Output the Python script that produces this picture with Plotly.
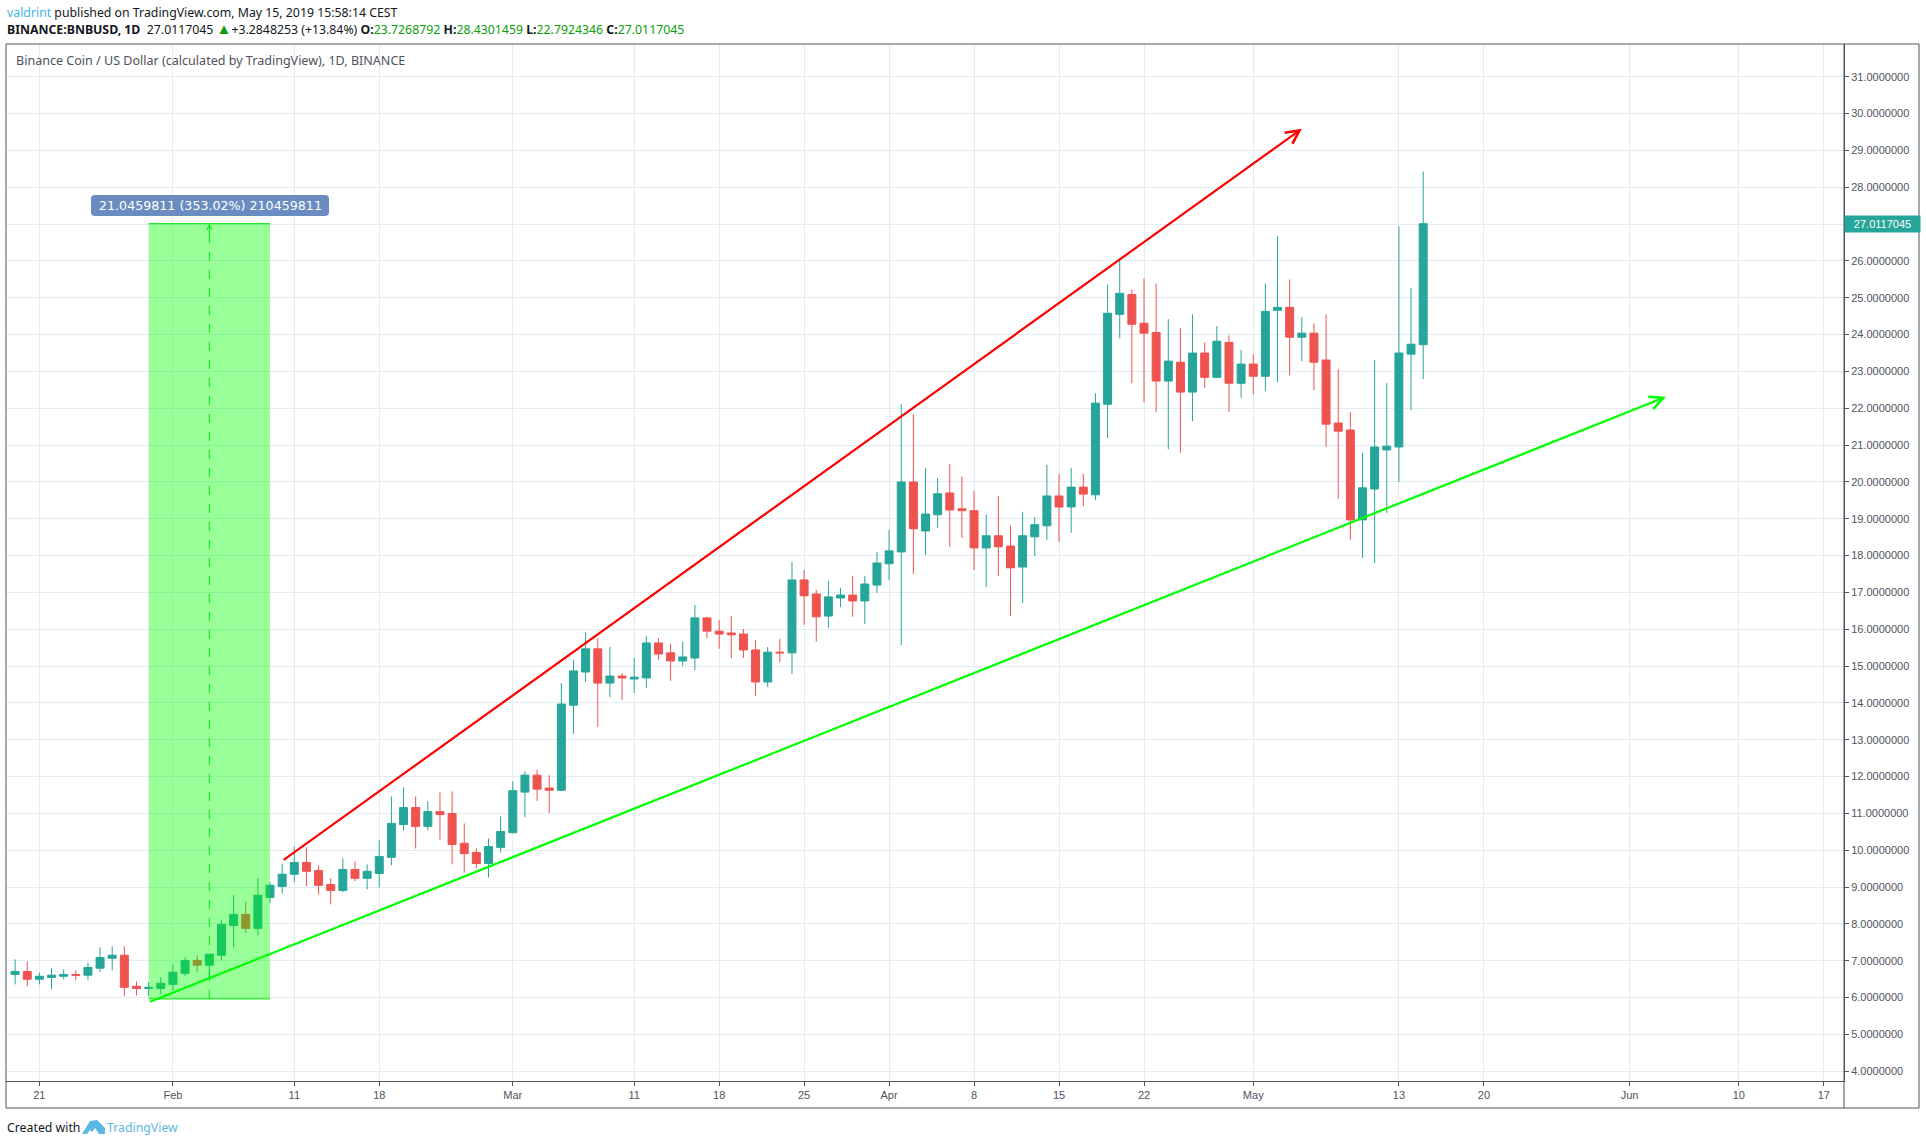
import pandas as pd
import plotly.graph_objects as go

W, H = 1926, 1145

# daily candles, 2019-01-19 .. 2019-05-15
dates = pd.date_range("2019-01-19", "2019-05-15").strftime("%Y-%m-%d").tolist()

opens = [6.63, 6.71, 6.50, 6.55, 6.58, 6.63, 6.61, 6.80, 7.07, 7.15, 6.31, 6.25, 6.25,
         6.36, 6.66, 7.01, 6.88, 7.15, 7.96, 8.26, 7.88, 8.72, 9.02, 9.35, 9.67, 9.45, 9.07, 8.91, 9.48,
         9.24, 9.37, 9.81, 10.70, 11.16, 10.65, 11.05, 11.00, 10.19, 9.94, 9.64, 10.08,
         10.48, 11.58, 12.04, 11.69, 11.63, 13.94, 14.84, 15.47, 14.54, 14.73, 14.65, 14.68, 15.63, 15.36,
         15.14, 15.22, 16.31, 15.95, 15.90, 15.87, 15.44, 14.57, 15.38, 15.36, 17.34, 16.96, 16.36, 16.85,
         16.93, 16.77, 17.20,
         17.78, 18.10, 20.00, 18.67, 19.11, 19.70, 19.27, 19.22, 18.21, 18.54, 18.26, 17.69, 18.51, 18.81,
         19.62, 19.32, 19.86, 19.65, 22.11, 24.55, 25.09, 24.31, 24.06, 22.74, 23.25, 22.44, 23.50, 22.84,
         23.79, 22.68,
         23.20, 22.87, 24.66, 24.74, 23.93, 24.04, 23.31, 21.60, 21.41, 18.97, 19.81, 20.87, 20.95, 23.47,
         23.7268792]
highs = [7.04, 6.99, 6.68, 6.80, 6.77, 6.74, 6.95, 7.37, 7.39, 7.39, 6.44, 6.42, 6.55,
         6.90, 7.09, 7.15, 7.18, 8.12, 8.78, 8.61, 9.24, 9.13, 9.62, 10.10, 10.08, 9.59, 9.24, 9.78, 9.70,
         9.62, 10.27, 11.46, 11.71, 11.46, 11.33, 11.57, 11.60, 10.73, 10.05, 10.32, 10.92,
         11.87, 12.15, 12.18, 12.04, 14.54, 15.17, 15.93, 15.76, 15.52, 14.81, 15.22, 15.82, 15.76, 15.60,
         15.66, 16.66, 16.34, 16.25, 16.36, 16.01, 15.71, 15.52, 15.74, 17.83, 17.61, 17.07, 17.31, 17.12,
         17.45, 17.45, 18.10,
         18.70, 22.12, 21.84, 20.38, 20.11, 20.49, 20.14, 19.76, 19.11, 19.62, 18.81, 19.19, 19.05, 20.47,
         20.22, 20.38, 20.22, 22.41, 25.36, 26.02, 25.23, 25.53, 25.39, 24.42, 24.17, 24.55, 23.79, 24.23,
         23.98, 23.58,
         23.47, 25.39, 26.67, 25.50, 24.47, 24.31, 24.55, 23.06, 21.90, 20.79, 23.31, 22.68, 26.94, 25.26,
         28.4301459]
lows = [6.36, 6.31, 6.36, 6.23, 6.50, 6.47, 6.47, 6.69, 6.74, 6.04, 6.06, 6.04, 6.09,
        6.20, 6.58, 6.69, 6.50, 7.01, 7.37, 7.75, 7.69, 8.56, 8.83, 9.13, 9.02, 8.80, 8.53, 8.86, 9.16,
        8.94, 8.99, 9.59, 10.54, 10.05, 10.54, 10.29, 9.62, 9.40, 9.51, 9.26, 9.94,
        10.46, 10.90, 11.34, 11.01, 11.61, 13.16, 14.57, 13.35, 14.16, 14.08, 14.27, 14.41, 15.17, 14.60,
        15.00, 14.89, 15.76, 15.47, 15.22, 15.22, 14.19, 14.43, 15.11, 14.79, 16.12, 15.66, 16.04, 16.60,
        16.34, 16.14, 16.99,
        17.34, 15.57, 17.50, 18.02, 18.75, 18.24, 18.48, 17.61, 17.15, 17.45, 16.36, 16.72, 17.99, 18.43,
        18.37, 18.62, 19.35, 19.51, 21.19, 23.90, 22.68, 22.17, 21.90, 20.89, 20.79, 21.65, 22.55, 22.84,
        21.90, 22.28,
        22.38, 22.47, 22.71, 22.90, 23.28, 22.49, 20.95, 19.54, 18.43, 17.94, 17.80, 19.16, 20.00, 21.95,
        22.7924346]
closes = [6.71, 6.50, 6.58, 6.61, 6.63, 6.61, 6.82, 7.09, 7.15, 6.28, 6.25, 6.28, 6.39,
          6.69, 7.01, 6.88, 7.18, 7.99, 8.26, 7.88, 8.78, 9.05, 9.35, 9.67, 9.43, 9.05, 8.91, 9.48, 9.24,
          9.43, 9.83, 10.73, 11.16, 10.65, 11.05, 10.97, 10.16, 9.91, 9.64, 10.10, 10.51,
          11.62, 12.04, 11.66, 11.63, 13.97, 14.87, 15.47, 14.54, 14.73, 14.68, 14.70, 15.63, 15.33, 15.14,
          15.25, 16.31, 15.95, 15.87, 15.85, 15.44, 14.57, 15.38, 15.36, 17.34, 16.91, 16.34, 16.88, 16.93,
          16.77, 17.23, 17.80,
          18.13, 20.00, 18.73, 19.13, 19.68, 19.24, 19.22, 18.21, 18.54, 18.24, 17.67, 18.54, 18.84, 19.62,
          19.32, 19.86, 19.67, 22.14, 24.58, 25.12, 24.28, 24.04, 22.74, 23.28, 22.44, 23.50, 22.84, 23.82,
          22.68, 23.20,
          22.87, 24.63, 24.74, 23.93, 24.04, 23.25, 21.57, 21.38, 18.97, 19.84, 20.95, 20.97, 23.50, 23.74,
          27.0117045]

tick_dates = ["2019-01-21", "2019-02-01", "2019-02-11", "2019-02-18", "2019-03-01", "2019-03-11",
              "2019-03-18", "2019-03-25", "2019-04-01", "2019-04-08", "2019-04-15", "2019-04-22",
              "2019-05-01", "2019-05-13", "2019-05-20", "2019-06-01", "2019-06-10", "2019-06-17"]
tick_labels = ["21", "Feb", "11", "18", "Mar", "11", "18", "25", "Apr", "8", "15", "22",
               "May", "13", "20", "Jun", "10", "17"]
price_ticks = list(range(4, 32))

# drawings on the chart (date, price)
red_line = [("2019-02-10", 9.71), ("2019-05-05", 29.59)]
green_line = [("2019-01-30", 5.87), ("2019-06-04", 22.31)]
measure_dates = ["2019-01-30", "2019-02-04", "2019-02-09"]
measure_prices = [5.9657, 27.0117]

TEAL = "#26a69a"
RED = "#ef5350"
FRAME = "#50535e"
GRID = "#e2ecf3"
LIME = "#00e600"

LEFT, RIGHT, OUTER, TOP, BOTTOM, FOOT = 6, 1844, 1919, 44, 1081, 1108


def px(x):
    return x / W


def py(y):
    return 1 - y / H


def rounded(x0, y0, x1, y1, r):
    return (f"M{px(x0 + r)},{py(y0)} L{px(x1 - r)},{py(y0)} Q{px(x1)},{py(y0)} {px(x1)},{py(y0 + r)} "
            f"L{px(x1)},{py(y1 - r)} Q{px(x1)},{py(y1)} {px(x1 - r)},{py(y1)} "
            f"L{px(x0 + r)},{py(y1)} Q{px(x0)},{py(y1)} {px(x0)},{py(y1 - r)} "
            f"L{px(x0)},{py(y0 + r)} Q{px(x0)},{py(y0)} {px(x0 + r)},{py(y0)} Z")


def label(x, y, text, size=12.3, color="#131722", family="Noto Sans", xanchor="left"):
    fig.add_annotation(xref="paper", yref="paper", x=px(x), y=py(y), text=text, showarrow=False,
                       xanchor=xanchor, yanchor="middle", align="left", borderpad=0,
                       font=dict(family=family, size=size, color=color))


fig = go.Figure()
fig.add_trace(go.Candlestick(x=dates, open=opens, high=highs, low=lows, close=closes,
                             whiskerwidth=0,
                             increasing=dict(line=dict(color=TEAL, width=1), fillcolor=TEAL),
                             decreasing=dict(line=dict(color=RED, width=1), fillcolor=RED)))

fig.update_layout(width=W, height=H, autosize=False, margin=dict(l=0, r=0, t=0, b=0),
                  paper_bgcolor="white", plot_bgcolor="white", showlegend=False,
                  boxgap=0.2, boxgroupgap=0.18,
                  font=dict(family="Liberation Sans", size=11, color="#50535e"))
fig.update_xaxes(type="date", domain=[px(LEFT), px(RIGHT)], range=["2019-01-18 06:00", "2019-06-18 16:00"],
                 rangeslider_visible=False, tickmode="array", tickvals=tick_dates, ticktext=tick_labels,
                 showgrid=True, gridcolor=GRID, gridwidth=1, zeroline=False,
                 ticks="outside", ticklen=4, tickcolor=FRAME, showline=True, linecolor=FRAME, linewidth=1)
fig.update_yaxes(domain=[py(BOTTOM), py(TOP)], range=[3.737, 31.89], side="right", tickmode="array",
                 tickvals=price_ticks, tickformat=".7f", showgrid=True, gridcolor=GRID, gridwidth=1,
                 zeroline=False, ticks="outside", ticklen=4, tickcolor=FRAME,
                 showline=True, linecolor=FRAME, linewidth=1)

# measure box, drawn over the candles
fig.add_shape(type="rect", x0=measure_dates[0], x1=measure_dates[2], y0=measure_prices[0], y1=measure_prices[1],
              xref="x", yref="y", fillcolor="rgba(0,255,0,0.4)", line_width=0, layer="above")
for price in measure_prices:
    fig.add_shape(type="line", x0=measure_dates[0], x1=measure_dates[2], y0=price, y1=price,
                  xref="x", yref="y", line=dict(color=LIME, width=1))
fig.add_shape(type="line", x0=measure_dates[1], x1=measure_dates[1], y0=measure_prices[0], y1=measure_prices[1],
              xref="x", yref="y", line=dict(color=LIME, width=1, dash="dash"))
fig.add_annotation(x=measure_dates[1], y=measure_prices[1], ax=measure_dates[1], ay=26.7, axref="x", ayref="y",
                   text="", showarrow=True, arrowhead=5, arrowsize=1, arrowwidth=1, arrowcolor=LIME)

# trend lines
for line, color in [(red_line, "#ff0000"), (green_line, "#00ff00")]:
    fig.add_annotation(x=line[1][0], y=line[1][1], ax=line[0][0], ay=line[0][1], axref="x", ayref="y",
                       text="", showarrow=True, arrowhead=5, arrowsize=1.2, arrowwidth=2.2, arrowcolor=color)

# frame around chart and price axis
fig.add_shape(type="rect", xref="paper", yref="paper", x0=px(LEFT), x1=px(OUTER), y0=py(FOOT), y1=py(TOP),
              line=dict(color=FRAME, width=1), layer="above")
fig.add_shape(type="line", xref="paper", yref="paper", x0=px(RIGHT), x1=px(RIGHT), y0=py(FOOT), y1=py(TOP),
              line=dict(color=FRAME, width=1), layer="above")

# measure tag
fig.add_shape(type="path", xref="paper", yref="paper", path=rounded(91, 195, 329, 216, 4),
              fillcolor="#6a8cc0", line_width=0, layer="above")
label(210, 205.5, "21.0459811 (353.02%) 210459811", size=12.65, color="white", family="DejaVu Sans", xanchor="center")

# last price tag
fig.add_annotation(xref="paper", yref="y", x=px(RIGHT), y=closes[-1], text="27.0117045", showarrow=False,
                   xanchor="left", yanchor="middle", width=75, height=16, bgcolor=TEAL, borderpad=0, align="center",
                   font=dict(family="Liberation Sans", size=11, color="white"))

# header
GREEN_TXT = "#0a9e0a"
label(6, 12, '<span style="color:#42b4e6">valdrint</span> published on TradingView.com, May 15, 2019 15:58:14 CEST')
label(6, 27.5, f'<b>BINANCE:BNBUSD, 1D</b>  27.0117045 <span style="color:{GREEN_TXT};font-size:15px">▲</span>+3.2848253 (+13.84%) '
               f'<b>O:</b><span style="color:{GREEN_TXT}">23.7268792</span> '
               f'<b>H:</b><span style="color:{GREEN_TXT}">28.4301459</span> '
               f'<b>L:</b><span style="color:{GREEN_TXT}">22.7924346</span> '
               f'<b>C:</b><span style="color:{GREEN_TXT}">27.0117045</span>')
label(15, 60, "Binance Coin / US Dollar (calculated by TradingView), 1D, BINANCE", size=12.55, color="#4f525c")

# footer with logo
label(6, 1127, "Created with")
fig.add_shape(type="path", xref="paper", yref="paper", fillcolor="#5bb8e6", line_width=0,
              path=(f"M{px(82)},{py(1134)} L{px(90)},{py(1121)} L{px(97)},{py(1120)} L{px(105)},{py(1128)} "
                    f"L{px(105)},{py(1134)} L{px(99)},{py(1134)} L{px(95)},{py(1128)} L{px(92)},{py(1132)} "
                    f"L{px(90)},{py(1130)} L{px(87)},{py(1134)} Z"))
label(106, 1127, "TradingView", color="#5bb8e6")

fig.write_html("out.html", config=dict(displayModeBar=False), post_script="document.body.style.margin='0';")
